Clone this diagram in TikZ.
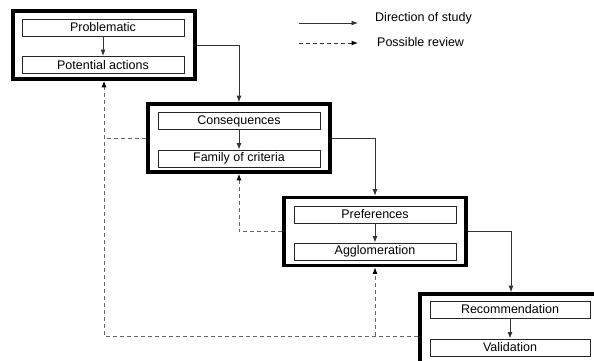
\documentclass[tikz,border=0pt]{standalone}
\usepackage{fontspec}
\setmainfont{Liberation Sans}
\usetikzlibrary{arrows.meta}
\begin{document}
\begin{tikzpicture}[x=1pt,y=-1pt,
  font=\fontsize{12.5}{14}\selectfont,
  outerbox/.style={draw=black,line width=3.6pt,minimum width=182pt,minimum height=68pt,inner sep=0pt},
  innerbox/.style={draw=black!85,line width=0.9pt,minimum width=162pt,minimum height=17pt,inner sep=0pt},
  conn/.style={draw=black!80,line width=0.9pt,-{Latex[length=6.5pt,width=5pt]}},
  dashline/.style={draw=black!60,line width=1pt,dash pattern=on 4pt off 3pt},
  review/.style={dashline,-{Latex[length=6.5pt,width=5pt,black]}}]
\useasboundingbox (0,0) rectangle (594,360);
\clip (0,0) rectangle (594,360);
\fill[white] (0,0) rectangle (594,360);
% boxes
\node[outerbox] (b1) at (104,45) {};
\node[innerbox] (p1) at (103,27.5) {Problematic};
\node[innerbox] (p2) at (103,65) {Potential actions};
\node[outerbox] (b2) at (239,138) {};
\node[innerbox] (c1) at (239,121) {Consequences};
\node[innerbox] (c2) at (239,158.5) {Family of criteria};
\node[outerbox] (b3) at (375,231.5) {};
\node[innerbox] (r1) at (375,214.5) {Preferences};
\node[innerbox] (r2) at (375,251.5) {Agglomeration};
\node[outerbox,minimum height=84pt] (b4) at (511,336) {};
\node[innerbox,minimum width=160pt] (v1) at (510,309.5) {Recommendation};
\node[innerbox,minimum width=160pt] (v2) at (510,347.5) {Validation};
% inner arrows
\draw[conn] (p1) -- (p2);
\draw[conn] (c1) -- (c2);
\draw[conn] (r1) -- (r2);
\draw[conn] (v1) -- (v2);
% direction of study
\draw[conn] (b1.east) -| (b2.north);
\draw[conn] (b2.east) -| (b3.north);
\draw[conn] (b3.east) -| (b4.north);
% possible review
\draw[review] (b4.west) -| (b1.south);
\draw[dashline] (b2.west) -- (b2.west -| b1.south);
\draw[review] (b4.west -| b3.south) -- (b3.south);
\draw[review] (b3.west) -| (b2.south);
% legend
\coordinate (la) at (299,23);
\coordinate (lb) at (358,23);
\coordinate (lc) at (299,43);
\coordinate (ld) at (358,43);
\draw[conn] (la) -- (lb);
\draw[review,draw=black!80] (lc) -- (ld);
\node[anchor=west,inner sep=0pt] (t1) at (375,18) {Direction of study};
\node[anchor=west,inner sep=0pt] (t2) at (377,42) {Possible review};
\end{tikzpicture}
\end{document}
